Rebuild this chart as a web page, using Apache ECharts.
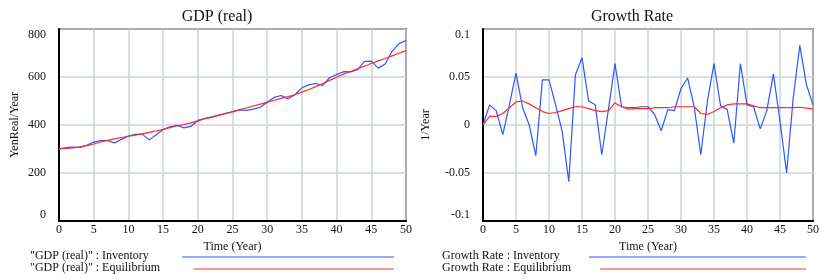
<!DOCTYPE html>
<html>
<head>
<meta charset="utf-8">
<script src="https://cdn.jsdelivr.net/npm/echarts@6/dist/echarts.min.js"></script>
<style>
  html, body { margin: 0; padding: 0; background: #fff; }
  #chart { width: 822px; height: 279px; }
</style>
</head>
<body>
<div id="chart"></div>
<script>
const years = [0,1,2,3,4,5,6,7,8,9,10,11,12,13,14,15,16,17,18,19,20,21,22,23,24,25,
  26,27,28,29,30,31,32,33,34,35,36,37,38,39,40,41,42,43,44,45,46,47,48,49,50];

// GDP (real), YenReal/Year
const gdpInventory = [301,306,308,307,315,329,335,335,325,340,354,361,362,338,359,381,
  392,399,388,394,419,428,434,441,449,456,463,461,466,474,495,515,523,509,526,555,
  567,573,565,598,610,622,621,630,665,666,637,654,707,739,752];
const gdpEquilibrium = [300,302,305,309,314,321,329,336,342,348,353,358,363,369,375,382,
  389,396,402,409,417,425,432,440,447,455,463,471,479,487,495,503,511,518,526,537,
  548,560,573,586,599,612,623,634,645,656,667,677,688,699,710];

// Growth Rate, 1/Year
const growthInventory = [0,0.021,0.015,-0.010,0.021,0.054,0.018,0.000,-0.032,0.047,0.047,
  0.021,-0.007,-0.059,0.052,0.070,0.025,0.021,-0.031,0.016,0.064,0.019,0.018,0.018,
  0.019,0.019,0.011,-0.006,0.016,0.015,0.038,0.049,0.019,-0.031,0.025,0.064,0.020,
  0.016,-0.019,0.064,0.021,0.019,-0.004,0.015,0.053,0.004,-0.050,0.028,0.083,0.042,0.021];
const growthEquilibrium = [0,0.009,0.009,0.012,0.018,0.024,0.025,0.022,0.018,0.014,0.012,
  0.013,0.015,0.017,0.019,0.019,0.017,0.015,0.014,0.015,0.023,0.019,0.0165,0.017,0.017,
  0.017,0.018,0.018,0.018,0.019,0.019,0.019,0.019,0.012,0.011,0.014,0.018,0.021,0.022,
  0.022,0.022,0.020,0.018,0.018,0.018,0.018,0.018,0.018,0.0185,0.0175,0.0167];

const gdpTicks = [0, 200, 400, 600, 800];
const growthTicks = [-0.1, -0.05, 0, 0.05, 0.1];

const FONT = '"Liberation Serif", "Times New Roman", serif';
const BLUE = '#2f55ff';
const RED = '#ff2a2a';
const GRIDC = '#c9d3d6';

function pairs(ys) {
  return years.map((x, i) => [x, ys[i]]);
}

function xAxisOpt(gridIndex) {
  return {
    type: 'value', gridIndex: gridIndex, min: 0, max: 50, interval: 5,
    name: 'Time (Year)', nameLocation: 'middle', nameGap: 20, nameMoveOverlap: false,
    nameTextStyle: { fontFamily: FONT, fontSize: 12, color: '#111' },
    axisLine: { show: true, onZero: false, lineStyle: { color: '#000', width: 2 } },
    axisTick: { show: false },
    axisLabel: { fontFamily: FONT, fontSize: 12, color: '#111', margin: 3 },
    splitLine: { show: true, lineStyle: { color: GRIDC, width: 1.5 } }
  };
}

function yAxisOpt(gridIndex, min, max, interval, name, gap, fmt) {
  return {
    type: 'value', gridIndex: gridIndex, min: min, max: max, interval: interval,
    name: name, nameLocation: 'middle', nameGap: gap, nameRotate: 90,
    nameTextStyle: { fontFamily: FONT, fontSize: 12, color: '#111' },
    axisLine: { show: true, lineStyle: { color: '#000', width: 2 } },
    axisTick: { show: false },
    axisLabel: {
      fontFamily: FONT, fontSize: 12, color: '#111', margin: 13,
      verticalAlignMinLabel: 'bottom', verticalAlignMaxLabel: 'top',
      formatter: fmt
    },
    splitLine: { show: true, lineStyle: { color: GRIDC, width: 1.5 } }
  };
}

function lineSeries(xi, data, color) {
  return {
    type: 'line', xAxisIndex: xi, yAxisIndex: xi, data: pairs(data),
    showSymbol: false, symbol: 'none', animation: false,
    lineStyle: { color: color, width: 1.2 }
  };
}

function legendRow(x, y, text, x1, x2, color) {
  return [
    { type: 'text', left: x, top: y - 7,
      style: { text: text, font: '12px ' + FONT, fill: '#111' } },
    { type: 'line', shape: { x1: x1, y1: y, x2: x2, y2: y },
      style: { stroke: color, lineWidth: 1 } }
  ];
}

const chart = echarts.init(document.getElementById('chart'));

const option = {
  backgroundColor: '#fff',
  animation: false,
  title: [
    { text: 'GDP (real)', left: 212, top: 4, textAlign: 'center',
      textStyle: { fontFamily: FONT, fontSize: 16, fontWeight: 'normal', color: '#111' } },
    { text: 'Growth Rate', left: 627, top: 4, textAlign: 'center',
      textStyle: { fontFamily: FONT, fontSize: 16, fontWeight: 'normal', color: '#111' } }
  ],
  grid: [
    { left: 59, top: 29, width: 347, height: 192, show: true, borderColor: '#000', borderWidth: 1.5 },
    { left: 483, top: 29, width: 334, height: 192, show: true, borderColor: '#000', borderWidth: 1.5 }
  ],
  xAxis: [xAxisOpt(0), xAxisOpt(1)],
  yAxis: [
    yAxisOpt(0, gdpTicks[0], gdpTicks[gdpTicks.length - 1], 200, 'YenReal/Year', 38, v => String(v)),
    yAxisOpt(1, growthTicks[0], growthTicks[growthTicks.length - 1], 0.05, '1/Year', 51, v => String(+v.toFixed(2)))
  ],
  series: [
    lineSeries(0, gdpInventory, BLUE),
    lineSeries(0, gdpEquilibrium, RED),
    lineSeries(1, growthInventory, BLUE),
    lineSeries(1, growthEquilibrium, RED)
  ],
  graphic: [].concat(
    legendRow(30, 257, '"GDP (real)" : Inventory', 182, 394, BLUE),
    legendRow(30, 269, '"GDP (real)" : Equilibrium', 194, 394, RED),
    legendRow(442, 257, 'Growth Rate : Inventory', 589, 806, BLUE),
    legendRow(442, 269, 'Growth Rate : Equilibrium', 600, 806, RED)
  )
};

chart.setOption(option);
</script>
</body>
</html>
